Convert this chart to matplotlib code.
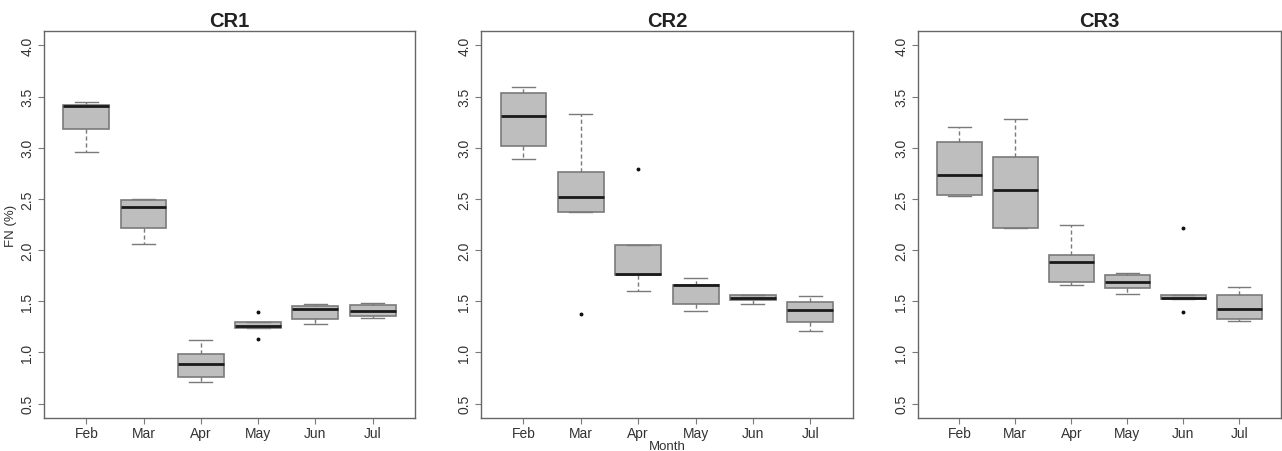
import matplotlib.pyplot as plt

plt.rcParams['font.family'] = ['Liberation Sans', 'DejaVu Sans']

months = ['Feb', 'Mar', 'Apr', 'May', 'Jun', 'Jul']
titles = ['CR1', 'CR2', 'CR3']

# box stats per month: lower whisker, q1, median, q3, upper whisker
cr1_whislo = [2.96, 2.06, 0.71, 1.24, 1.28, 1.335]
cr1_q1 = [3.18, 2.215, 0.765, 1.24, 1.325, 1.355]
cr1_med = [3.405, 2.425, 0.885, 1.257, 1.425, 1.41]
cr1_q3 = [3.42, 2.487, 0.982, 1.296, 1.452, 1.462]
cr1_whishi = [3.445, 2.497, 1.12, 1.296, 1.472, 1.48]
cr1_out = [[], [], [], [1.395, 1.135], [], []]

cr2_whislo = [2.887, 2.37, 1.605, 1.41, 1.472, 1.21]
cr2_q1 = [3.013, 2.37, 1.76, 1.472, 1.511, 1.30]
cr2_med = [3.31, 2.52, 1.77, 1.66, 1.53, 1.416]
cr2_q3 = [3.533, 2.767, 2.053, 1.663, 1.559, 1.498]
cr2_whishi = [3.594, 3.33, 2.053, 1.728, 1.559, 1.549]
cr2_out = [[], [1.377], [2.789], [], [], []]

cr3_whislo = [2.533, 2.212, 1.66, 1.572, 1.52, 1.306]
cr3_q1 = [2.539, 2.221, 1.692, 1.627, 1.52, 1.329]
cr3_med = [2.73, 2.588, 1.884, 1.692, 1.533, 1.423]
cr3_q3 = [3.056, 2.913, 1.952, 1.76, 1.559, 1.566]
cr3_whishi = [3.20, 3.283, 2.241, 1.777, 1.559, 1.64]
cr3_out = [[], [], [], [], [2.221, 1.394], []]

panels = [
    (cr1_whislo, cr1_q1, cr1_med, cr1_q3, cr1_whishi, cr1_out),
    (cr2_whislo, cr2_q1, cr2_med, cr2_q3, cr2_whishi, cr2_out),
    (cr3_whislo, cr3_q1, cr3_med, cr3_q3, cr3_whishi, cr3_out),
]

fig = plt.figure(figsize=(12.82, 4.52), dpi=100)
lefts = [0.0343, 0.3752, 0.716]
widths = [0.2894, 0.290, 0.283]

edge = '#7a7a7a'
txt = '#333333'

for i, (wl, q1, med, q3, wh, out) in enumerate(panels):
    ax = fig.add_axes([lefts[i], 0.073, widths[i], 0.856])
    stats = []
    for k in range(len(months)):
        stats.append({'whislo': wl[k], 'q1': q1[k], 'med': med[k], 'q3': q3[k],
                      'whishi': wh[k], 'fliers': out[k], 'label': months[k]})
    ax.bxp(stats, positions=range(1, 7), widths=0.8, patch_artist=True,
           boxprops=dict(facecolor='#bebebe', edgecolor=edge, linewidth=1.2),
           whiskerprops=dict(color=edge, linestyle=(0, (3, 2)), linewidth=1),
           capprops=dict(color=edge, linewidth=1),
           medianprops=dict(color='#1a1a1a', linewidth=2.0),
           flierprops=dict(marker='o', markersize=1.8, markerfacecolor='#111111',
                           markeredgecolor='#111111'),
           capwidths=0.4)
    ax.set_xlim(0.26, 6.74)
    ax.set_ylim(0.36, 4.14)
    ax.set_yticks([0.5, 1.0, 1.5, 2.0, 2.5, 3.0, 3.5, 4.0])
    ax.set_yticklabels(['0.5', '1.0', '1.5', '2.0', '2.5', '3.0', '3.5', '4.0'],
                       rotation=90, va='center')
    ax.set_xticks(range(1, 7))
    ax.set_xticklabels(months)
    ax.tick_params(axis='both', colors=edge, labelcolor=txt, labelsize=10,
                   length=4, width=0.8)
    ax.tick_params(axis='x', pad=1.5)
    ax.tick_params(axis='y', pad=3)
    for s in ax.spines.values():
        s.set_color('#666666')
        s.set_linewidth(1)
    ax.set_title(titles[i], fontsize=14.5, fontweight='bold', color='#222222', pad=4)
    if i == 0:
        ax.set_ylabel('FN (%)', fontsize=9.5, color=txt, labelpad=2)
    if i == 1:
        ax.set_xlabel('Month', fontsize=9.5, color=txt, labelpad=0)

fig.savefig('out.png', dpi=100)
